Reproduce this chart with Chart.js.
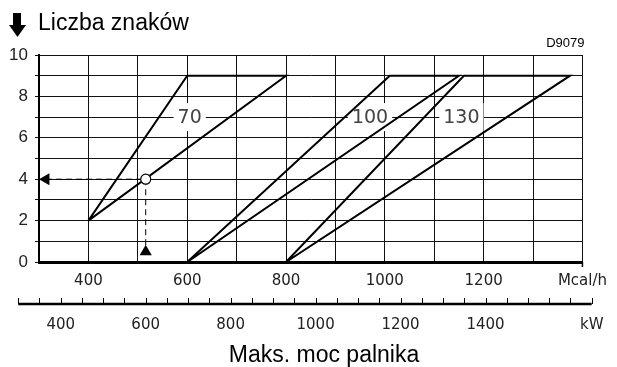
<!DOCTYPE html>
<html lang="pl">
<head>
<meta charset="utf-8">
<title>Liczba znaków</title>
<script src="https://cdn.jsdelivr.net/npm/chart.js@4.4.1/dist/chart.umd.min.js"></script>
<style>
  html, body { margin: 0; padding: 0; background: #fff; }
  #chart { display: block; }
</style>
</head>
<body>
<canvas id="chart" width="617" height="367"></canvas>
<script>
// Axis ticks (Mcal/h along x, number of markings along y)
const xTicks = [400, 600, 800, 1000, 1200];
const xUnit = 'Mcal/h';
const yTicks = [0, 2, 4, 6, 8, 10];

// Curves: start point, upper-left corner, upper-right corner, back to start
const curve70X = [400, 600, 800, 400];
const curve70Y = [2, 9, 9, 2];
const curve100X = [600, 1010, 1150, 600];
const curve100Y = [0, 9, 9, 0];
const curve130X = [800, 1160, 1375, 800];
const curve130Y = [0, 9, 9, 0];

const curveNames = ['70', '100', '130'];
const curveLabelX = [605, 970, 1155];
const curveLabelY = [7, 7, 7];

// Worked example: 516 Mcal/h -> 4 markings
const readX = 516;
const readY = 4;
const arrowX = [314, readX];
const arrowY = [readY, 0.5];
const arrowRot = [-90, 0];

// Secondary kW scale under the chart
const kwTicks = [400, 600, 800, 1000, 1200, 1400];
const kwUnit = 'kW';
const kwMin = 300;
const kwMax = 1650;
const kwStep = 50;
const MCAL_TO_KW = 1.163;

const pts = (xs, ys) => xs.map((x, i) => ({ x: x, y: ys[i] }));

function curveSet(xs, ys) {
    return {
        data: pts(xs, ys),
        showLine: true,
        borderColor: '#000',
        borderWidth: 2,
        pointRadius: 0,
        order: 2
    };
}

function dashSet(xs, ys) {
    return {
        data: pts(xs, ys),
        showLine: true,
        borderColor: '#000',
        borderWidth: 1,
        borderDash: [6, 4],
        pointRadius: 0,
        order: 3
    };
}

const decor = {
    id: 'decor',
    beforeDatasetsDraw(chart) {
        const { ctx, scales: { x, y } } = chart;
        ctx.save();
        ctx.font = '19px "DejaVu Sans"';
        ctx.textAlign = 'center';
        ctx.textBaseline = 'middle';
        curveNames.forEach((name, i) => {
            const px = x.getPixelForValue(curveLabelX[i]);
            const py = y.getPixelForValue(curveLabelY[i]);
            const w = ctx.measureText(name).width + 8;
            ctx.fillStyle = '#fff';
            ctx.fillRect(px - w / 2, py - 14, w, 28);
            ctx.fillStyle = '#444';
            ctx.fillText(name, px, py + 1);
        });
        ctx.restore();
    },
    afterDraw(chart) {
        const { ctx, chartArea, scales: { x } } = chart;
        ctx.save();

        // heading with the down arrow
        ctx.fillStyle = '#000';
        ctx.fillRect(13, 13, 8, 12);
        ctx.beginPath();
        ctx.moveTo(9, 25);
        ctx.lineTo(26, 25);
        ctx.lineTo(17.5, 37);
        ctx.closePath();
        ctx.fill();

        ctx.font = '23px "Liberation Sans"';
        ctx.textAlign = 'left';
        ctx.textBaseline = 'alphabetic';
        ctx.fillText('Liczba znaków', 38, 30);

        ctx.font = '13px "Liberation Sans"';
        ctx.textAlign = 'right';
        ctx.fillText('D9079', chartArea.right + 2, 47);

        // right border runs a little past the axis
        ctx.lineWidth = 1.5;
        ctx.beginPath();
        ctx.moveTo(chartArea.right, chartArea.bottom);
        ctx.lineTo(chartArea.right, chartArea.bottom + 5);
        ctx.stroke();

        // kW scale
        const kwPx = kw => x.getPixelForValue(kw / MCAL_TO_KW);
        const axisY = chartArea.bottom + 42;
        ctx.strokeStyle = '#000';
        ctx.lineWidth = 2.5;
        ctx.beginPath();
        ctx.moveTo(kwPx(kwMin), axisY);
        ctx.lineTo(kwPx(kwMax), axisY);
        ctx.stroke();

        ctx.lineWidth = 1;
        for (let kw = kwMin; kw <= kwMax; kw += kwStep) {
            const px = Math.round(kwPx(kw)) + 0.5;
            ctx.beginPath();
            ctx.moveTo(px, axisY);
            ctx.lineTo(px, axisY - 6);
            ctx.stroke();
        }

        ctx.fillStyle = '#222';
        ctx.font = '15px "DejaVu Sans"';
        ctx.textAlign = 'center';
        ctx.textBaseline = 'middle';
        kwTicks.forEach(kw => ctx.fillText(String(kw), kwPx(kw), axisY + 21));
        ctx.fillText(kwUnit, kwPx(kwMax), axisY + 21);

        // axis title
        ctx.fillStyle = '#000';
        ctx.font = '23px "Liberation Sans"';
        ctx.textBaseline = 'alphabetic';
        ctx.fillText('Maks. moc palnika', 324, 362);

        ctx.restore();
    }
};

const chart = new Chart(document.getElementById('chart').getContext('2d'), {
    type: 'scatter',
    data: {
        datasets: [
            {
                data: [{ x: readX, y: readY }],
                pointStyle: 'circle',
                pointRadius: 5,
                pointBackgroundColor: '#fff',
                pointBorderColor: '#000',
                pointBorderWidth: 1.2,
                order: 0
            },
            {
                data: pts(arrowX, arrowY),
                pointStyle: 'triangle',
                pointRadius: 7,
                pointRotation: arrowRot,
                pointBackgroundColor: '#000',
                pointBorderColor: '#000',
                pointBorderWidth: 0,
                order: 1
            },
            curveSet(curve70X, curve70Y),
            curveSet(curve100X, curve100Y),
            curveSet(curve130X, curve130Y),
            dashSet([arrowX[0], readX], [readY, readY]),
            dashSet([readX, readX], [readY, arrowY[1]])
        ]
    },
    options: {
        responsive: false,
        animation: false,
        events: [],
        layout: {
            padding: { top: 55, right: 34, bottom: 75, left: 0 }
        },
        plugins: {
            legend: { display: false },
            tooltip: { enabled: false }
        },
        scales: {
            x: {
                type: 'linear',
                min: 300,
                max: 1400,
                afterFit: s => { s.height = 30; },
                ticks: {
                    stepSize: 100,
                    autoSkip: false,
                    maxRotation: 0,
                    padding: 10,
                    color: '#222',
                    font: { family: 'DejaVu Sans', size: 15 },
                    callback: v => v === 1400 ? xUnit : (xTicks.includes(v) ? String(v) : '')
                },
                grid: { color: '#111', lineWidth: 1, drawTicks: false },
                border: { display: true, color: '#000', width: 3 }
            },
            y: {
                min: 0,
                max: 10,
                afterFit: s => { s.width = 39; },
                ticks: {
                    stepSize: 1,
                    autoSkip: false,
                    padding: 7,
                    color: '#222',
                    font: { family: 'Liberation Sans', size: 17 },
                    callback: v => yTicks.includes(v) ? String(v) : ''
                },
                grid: { color: '#111', lineWidth: 1, tickLength: 4 },
                border: { display: true, color: '#000', width: 2 }
            }
        }
    },
    plugins: [decor]
});
</script>
</body>
</html>
